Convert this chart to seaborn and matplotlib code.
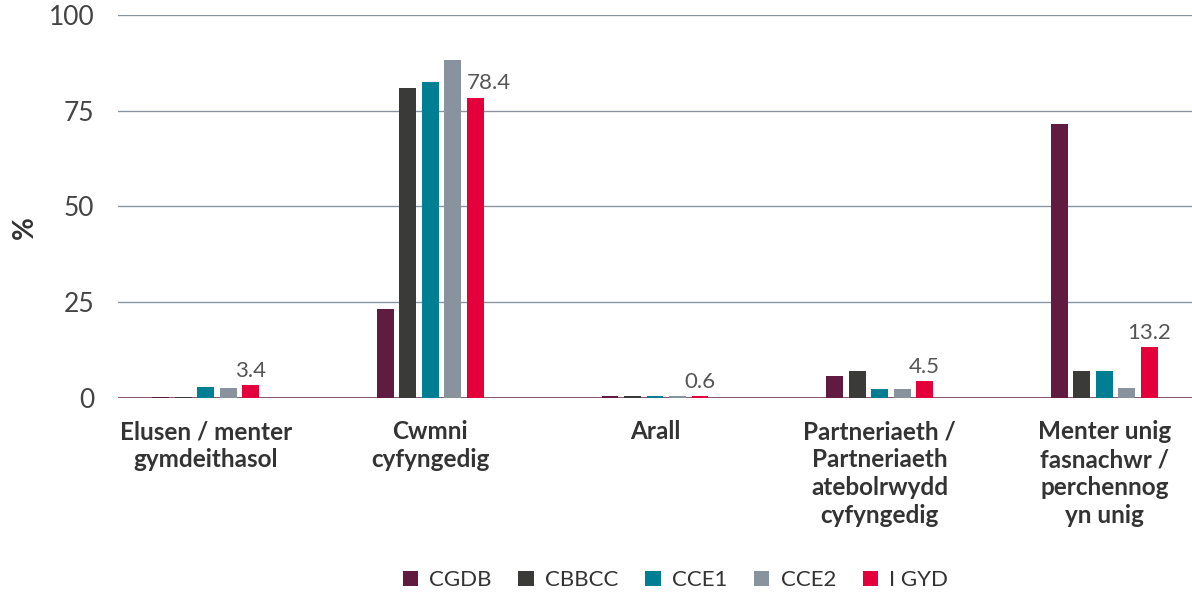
import pandas as pd
import matplotlib.pyplot as plt
import seaborn as sns

categories = ["Elusen / menter\ngymdeithasol", "Cwmni\ncyfyngedig", "Arall",
              "Partneriaeth /\nPartneriaeth\natebolrwydd\ncyfyngedig",
              "Menter unig\nfasnachwr /\nperchennog\nyn unig"]
series = ["CGDB", "CBBCC", "CCE1", "CCE2", "I GYD"]
cgdb = [0.4, 23.2, 0.6, 5.7, 71.5]
cbbcc = [0.4, 80.9, 0.6, 7.0, 7.0]
cce1 = [3.0, 82.5, 0.6, 2.4, 7.0]
cce2 = [2.5, 88.3, 0.6, 2.4, 2.7]
i_gyd = [3.4, 78.4, 0.6, 4.5, 13.2]
colors = ["#621b40", "#3a3a39", "#007e93", "#88939e", "#e4003b"]

rows = []
for name, vals in zip(series, [cgdb, cbbcc, cce1, cce2, i_gyd]):
    for cat, v in zip(categories, vals):
        rows.append({"cat": cat, "series": name, "value": v})
df = pd.DataFrame(rows)

sns.set_style("white")
plt.rcParams['font.family'] = ['Lato', 'DejaVu Sans']

fig = plt.figure(figsize=(11.92, 5.95), dpi=100)
ax = fig.add_axes([0.099, 0.331, 0.901, 0.644])

sns.barplot(data=df, x="cat", y="value", hue="series", palette=colors,
            saturation=1, width=0.5, gap=0.25, linewidth=0, ax=ax,
            legend=True, zorder=3)

# value labels only for I GYD
labels = ax.bar_label(ax.containers[-1], labels=[f"{v:.1f}" for v in i_gyd],
                      padding=3, fontsize=16, color="#555555")
# the 78.4 label sits a little to the right in the original
labels[1].xyann = (10, 3)

ax.set_ylim(0, 100)
ax.set_xlim(-0.39, 4.39)
ax.set_yticks([0, 25, 50, 75, 100])
ax.yaxis.grid(True, color="#8a949e", linewidth=1, zorder=0)
ax.set_axisbelow(True)
for s in ["top", "right", "left", "bottom"]:
    ax.spines[s].set_visible(False)
ax.axhline(0, color="#7a3a5a", linewidth=1.2, zorder=2)

ax.tick_params(axis="y", length=0, labelsize=19, labelcolor="#444444", pad=17)
ax.tick_params(axis="x", length=0, pad=16)
ax.set_xticks(range(len(categories)))
ax.set_xticklabels(categories, fontsize=17.5, fontweight="bold", color="#333333",
                   linespacing=1.25, va="top")
ax.set_xlabel("")
ax.set_ylabel("%", fontsize=20, fontweight="bold", color="#333333")
ax.yaxis.set_label_coords(-0.075, 0.446)

leg = ax.legend(loc="center", bbox_to_anchor=(0.519, -0.475), ncol=5,
                frameon=False, fontsize=16, handlelength=0.7, handleheight=0.7,
                handletextpad=0.5, columnspacing=1.2)
for t in leg.get_texts():
    t.set_color("#333333")

fig.savefig("out.png", dpi=100)
